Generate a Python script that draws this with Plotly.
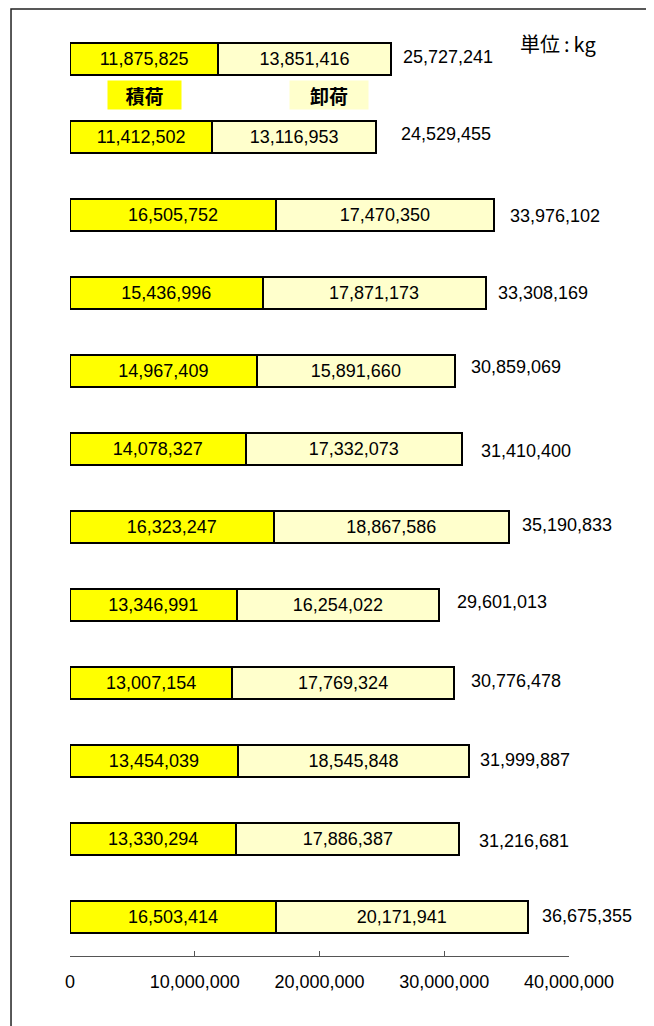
import plotly.graph_objects as go

# ---- data ----
rows = list(range(1, 13))
loading = [11875825, 11412502, 16505752, 15436996, 14967409, 14078327,
           16323247, 13346991, 13007154, 13454039, 13330294, 16503414]
unloading = [13851416, 13116953, 17470350, 17871173, 15891660, 17332073,
             18867586, 16254022, 17769324, 18545848, 17886387, 20171941]
totals = [25727241, 24529455, 33976102, 33308169, 30859069, 31410400,
          35190833, 29601013, 30776478, 31999887, 31216681, 36675355]
x_ticks = [0, 10000000, 20000000, 30000000, 40000000]
x_tick_labels = ["0", "10,000,000", "20,000,000", "30,000,000", "40,000,000"]
legend_labels = ["積荷", "卸荷"]
unit_label = "単位\u2009:\u2009kg"

# ---- styling ----
YELLOW = "#FFFF00"
LIGHT = "#FFFFCC"
FONT = "Liberation Sans, Arial, sans-serif"
CJK = "Noto Sans CJK JP, sans-serif"
total_dx = [10, 23, 14, 10, 14, 17, 11, 16, 15, 9, 18, 12]
total_dy = [2, 3, -1, 0, 4, -2, 2, 3, 2, 1, -2, 1]

fig = go.Figure()
fig.add_trace(go.Bar(
    orientation="h", y=rows, x=loading, width=0.4,
    marker=dict(color=YELLOW, line=dict(color="black", width=2)),
    text=[f"{v:,}" for v in loading], textposition="inside",
    insidetextanchor="middle", textangle=0,
    textfont=dict(family=FONT, size=18, color="black"),
    hoverinfo="skip",
))
fig.add_trace(go.Bar(
    orientation="h", y=rows, x=unloading, width=0.4,
    marker=dict(color=LIGHT, line=dict(color="black", width=2)),
    text=[f"{v:,}" for v in unloading], textposition="inside",
    insidetextanchor="middle", textangle=0,
    textfont=dict(family=FONT, size=18, color="black"),
    hoverinfo="skip",
))

annotations = []
for i, (r, t) in enumerate(zip(rows, totals)):
    annotations.append(dict(
        x=t, y=r, xref="x", yref="y", text=f"{t:,}", showarrow=False,
        xanchor="left", yanchor="middle", xshift=total_dx[i], yshift=total_dy[i],
        font=dict(family=FONT, size=18, color="black"),
    ))

annotations.append(dict(
    x=0.1493, y=0.9199, xref="paper", yref="paper", text=f"<b>{legend_labels[0]}</b>",
    showarrow=False, xanchor="center", yanchor="middle", bgcolor=YELLOW,
    width=73, height=28, borderpad=0, font=dict(family=CJK, size=19, color="black"),
))
annotations.append(dict(
    x=0.519, y=0.9199, xref="paper", yref="paper", text=f"<b>{legend_labels[1]}</b>",
    showarrow=False, xanchor="center", yanchor="middle", bgcolor=LIGHT,
    width=78, height=28, borderpad=0, font=dict(family=CJK, size=19, color="black"),
))
annotations.append(dict(
    x=0.978, y=0.9754, xref="paper", yref="paper", text=unit_label,
    showarrow=False, xanchor="center", yanchor="middle",
    font=dict(family=CJK, size=20, color="black"),
))

fig.update_layout(
    width=646, height=1018,
    margin=dict(l=62, r=85, t=12, b=70),
    barmode="stack", bargap=0.6, showlegend=False,
    plot_bgcolor="white", paper_bgcolor="white",
    font=dict(family=FONT, size=18, color="black"),
    annotations=annotations,
    shapes=[dict(type="rect", xref="paper", yref="paper",
                 x0=-0.1182, x1=1.1573, y0=-0.0897, y1=1.0118,
                 line=dict(color="#222222", width=1.5), fillcolor="rgba(0,0,0,0)")],
)
fig.update_xaxes(
    range=[0, 40000000], tickvals=x_ticks, ticktext=x_tick_labels,
    showline=True, linecolor="#555555", linewidth=1,
    ticks="inside", ticklen=5, tickcolor="#555555", tickwidth=1,
    showgrid=False, zeroline=False, ticklabelstandoff=9,
    tickfont=dict(family=FONT, size=18, color="black"),
)
fig.update_yaxes(
    range=[12.5, 0.5], showticklabels=False, showgrid=False, zeroline=False,
    showline=False, ticks="",
)

fig.write_html("out.html")
